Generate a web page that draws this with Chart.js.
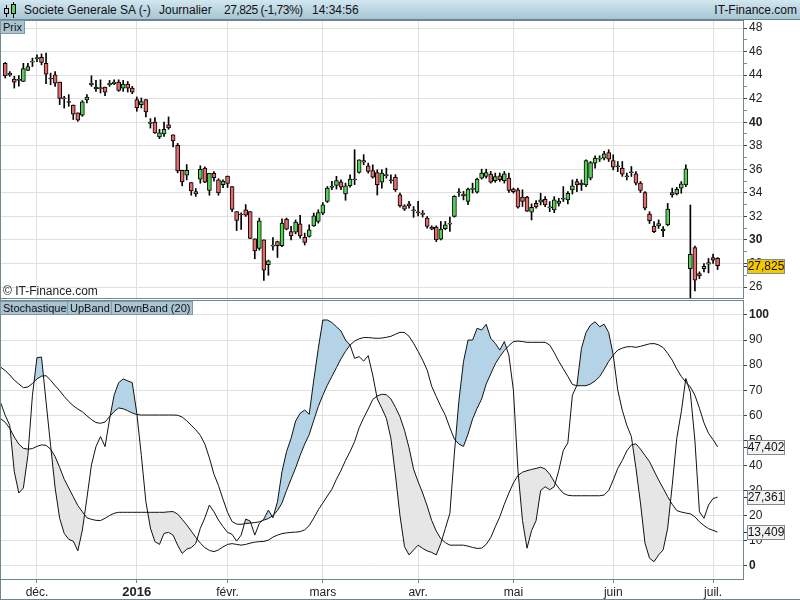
<!DOCTYPE html>
<html>
<head>
<meta charset="utf-8">
<script src="https://cdn.jsdelivr.net/npm/chart.js@4.4.0/dist/chart.umd.min.js"></script>
<style>
  body { margin: 0; width: 800px; height: 600px; position: relative; overflow: hidden; background: #fff; font-family: "Liberation Sans", Arial, sans-serif; }
  #header { position: absolute; left: 0; top: 0; width: 800px; height: 20px; background: linear-gradient(#d2e7f0, #a6c5d3); border-bottom: 1px solid #6b8593; box-sizing: border-box; }
  .ht { position: absolute; top: 3px; font-size: 12px; line-height: 14px; color: #111; white-space: nowrap; }
  .tag { position: absolute; height: 14px; line-height: 13px; font-size: 11px; padding: 0 2px; background: #a9c5d2; border: 1px solid #7f98a4; color: #111; box-sizing: border-box; white-space: nowrap; z-index: 3; }
  canvas { position: absolute; left: 0; }
  .frame { position: absolute; border: 1px solid #6f8590; box-sizing: border-box; pointer-events: none; z-index: 2; }
  .ic { position: absolute; box-sizing: border-box; }
  #copy { position: absolute; left: 3px; top: 284px; font-size: 12px; color: #222; z-index: 3; }
</style>
</head>
<body>
<div id="header">
  <div class="ic" style="left:6px;top:5px;width:1px;height:12px;background:#000"></div>
  <div class="ic" style="left:4px;top:8px;width:5px;height:6px;background:#ccc;border:1px solid #000"></div>
  <div class="ic" style="left:13px;top:2px;width:1px;height:16px;background:#000"></div>
  <div class="ic" style="left:11px;top:4px;width:5px;height:10px;background:#5bd35b;border:1px solid #000"></div>
  <span class="ht" style="left:24px">Societe Generale SA (-)</span>
  <span class="ht" style="left:159px">Journalier</span>
  <span class="ht" style="left:224px;letter-spacing:-0.5px">27,825 (-1,73%)</span>
  <span class="ht" style="left:312px">14:34:56</span>
  <span class="ht" style="right:3px">IT-Finance.com</span>
</div>

<canvas id="prix" width="800" height="278" style="top:20px"></canvas>
<canvas id="stoch" width="800" height="300" style="top:300px"></canvas>

<div class="frame" style="left:0;top:20px;width:744px;height:279px"></div>
<div class="frame" style="left:0;top:300px;width:744px;height:280px"></div>
<div class="frame" style="left:0;top:19px;width:800px;height:581px;border-right:none;border-top:none"></div>

<div class="tag" style="left:0;top:20px">Prix</div>
<div class="tag" style="left:0;top:301px">Stochastique</div>
<div class="tag" style="left:67px;top:301px">UpBand</div>
<div class="tag" style="left:111px;top:301px">DownBand (20)</div>
<div id="copy">© IT-Finance.com</div>

<script>
// axe des x : un point par séance (0 = 20 nov. 2015)
const xMin = -1.15, xMax = 162.6;
const monthIdx = [7, 29, 49, 70, 91, 112, 134, 156];
const monthLabels = ['déc.', '2016', 'févr.', 'mars', 'avr.', 'mai', 'juin', 'juil.'];
const priceTicks = [26,27,28,29,30,31,32,33,34,35,36,37,38,39,40,41,42,43,44,45,46,47,48];
const stochTicks = [0,10,20,30,40,50,60,70,80,90,100];

// cours journaliers
const opens = [
  45.01,44.0,43.66,43.55,43.46,44.4,45.1,45.4,45.52,45.01,
  43.69,44.03,43.41,42.0,41.69,41.46,40.79,40.6,41.89,43.18,
  42.82,42.87,42.99,43.18,43.27,43.41,42.9,43.24,42.9,41.92,
  41.49,41.92,39.9,40.0,38.76,39.0,39.77,38.93,38.03,35.92,
  35.5,34.87,33.9,35.16,36.1,34.2,35.66,35.1,34.7,35.43,
  34.54,32.4,32.14,32.56,32.4,30.1,29.29,30.0,27.91,29.48,
  29.86,29.51,31.77,30.71,30.66,31.37,30.23,30.29,31.2,31.57,
  32.28,33.27,34.47,34.63,34.94,33.9,34.6,35.09,35.73,36.75,
  36.3,35.9,35.73,34.91,35.46,35.11,35.31,33.84,32.9,33.07,
  32.5,32.33,32.19,31.85,30.92,31.09,30.07,30.95,31.35,32.0,
  34.01,33.9,33.27,34.3,34.06,35.25,35.39,35.59,35.03,35.45,
  35.03,35.25,34.32,34.26,33.64,33.64,32.35,33.1,33.2,33.45,
  32.72,32.55,33.11,33.46,33.4,34.25,34.96,34.68,34.68,35.24,
  36.52,36.86,36.95,37.43,36.75,36.22,36.1,35.37,35.71,35.61,
  34.82,34.03,32.2,31.18,31.2,30.76,31.27,34.02,33.9,34.4,
  34.68,27.57,29.36,27.15,27.57,27.94,28.51,28.43
];
const highs = [
  45.07,44.3,43.9,43.95,45.0,45.0,45.44,45.72,45.8,45.86,
  44.17,44.3,43.41,42.2,42.34,41.46,40.79,41.83,42.34,43.94,
  43.55,43.6,42.99,43.55,43.6,43.6,43.55,43.46,43.04,42.14,
  42.06,41.92,40.3,40.4,39.4,40.0,40.45,38.93,38.2,35.92,
  36.4,34.87,34.37,36.3,36.2,35.66,35.8,35.2,35.1,35.43,
  34.54,32.4,32.3,33.0,32.4,30.1,31.86,30.0,28.29,30.2,
  29.9,31.8,31.86,31.15,31.7,32.09,30.58,31.29,32.28,32.56,
  33.18,34.54,34.97,35.4,35.11,34.83,35.54,37.66,36.81,37.24,
  36.53,36.38,35.96,35.96,36.1,35.54,35.54,33.98,32.99,33.27,
  32.84,33.27,32.5,31.99,31.2,31.2,31.57,31.57,31.94,33.76,
  34.37,34.12,34.4,34.83,35.25,36.01,36.01,35.82,35.68,35.68,
  35.82,35.68,34.4,34.4,34.26,33.7,33.06,33.35,33.97,33.68,
  33.26,33.68,33.54,34.53,34.1,35.1,35.16,35.1,36.8,36.66,
  37.15,37.15,37.52,37.66,37.23,36.66,36.66,35.67,36.24,35.8,
  34.96,34.1,32.4,31.55,31.7,31.13,33.1,34.4,34.47,34.96,
  36.38,32.97,29.48,27.29,28.0,28.43,28.8,28.5
];
const lows = [
  43.75,43.9,42.9,43.05,43.46,44.4,44.73,45.15,44.87,43.27,
  43.18,43.04,41.5,41.2,41.35,40.23,40.08,40.5,41.63,43.04,
  42.62,42.48,42.25,43.04,43.18,42.62,42.62,42.56,42.42,40.93,
  41.21,40.45,39.5,39.05,38.6,38.8,39.4,37.9,35.7,34.6,
  35.1,33.8,33.7,34.82,34.87,33.8,35.0,33.8,34.45,34.45,
  32.4,30.8,30.9,32.0,30.1,28.4,29.14,26.57,27.0,29.14,
  28.51,29.43,30.86,30.0,30.52,30.16,29.57,30.24,31.15,31.43,
  32.14,33.18,34.26,34.32,34.26,33.37,34.49,34.7,35.68,36.38,
  35.68,35.25,33.82,34.4,35.25,34.83,34.12,32.79,32.5,32.7,
  31.92,32.05,31.94,31.0,30.86,29.86,30.0,30.86,30.72,31.94,
  33.69,33.4,32.99,33.98,33.98,35.17,35.25,34.83,34.9,34.97,
  34.83,34.03,33.98,32.7,32.84,32.42,31.7,32.7,32.97,32.83,
  32.4,32.32,32.88,33.26,33.06,33.9,34.1,34.2,34.53,35.1,
  36.1,36.66,36.8,36.66,35.95,35.8,35.4,35.1,35.39,34.67,
  34.03,32.55,31.4,30.61,30.98,30.27,31.2,33.63,33.82,33.97,
  34.53,25.1,25.67,26.72,27.29,27.2,28.0,27.49
];
const closes = [
  43.94,44.17,43.4,43.57,44.56,44.73,45.17,45.46,45.07,44.08,
  43.67,43.32,42.03,41.98,41.67,40.68,40.17,41.72,42.14,43.32,
  42.99,42.85,42.56,43.32,43.41,42.7,43.24,42.9,42.56,41.21,
  41.75,40.87,40.0,39.1,39.1,39.4,39.52,38.4,35.86,34.93,
  35.92,34.17,34.1,36.0,34.9,35.66,35.3,34.0,35.0,34.8,
  32.6,31.65,32.12,32.1,30.14,29.07,31.63,27.43,28.23,29.53,
  29.51,31.43,30.91,30.34,31.51,30.34,29.8,30.86,32.05,32.33,
  32.99,34.4,34.51,35.05,34.49,34.6,35.17,35.13,36.81,36.61,
  35.82,35.34,34.69,35.68,35.5,35.03,34.26,32.9,32.62,32.9,
  32.48,32.31,32.17,31.14,31.09,30.0,30.92,31.29,31.39,33.7,
  34.05,33.75,34.32,34.34,35.17,35.68,35.73,34.91,35.39,35.11,
  35.62,34.2,34.09,32.79,33.27,32.45,32.77,32.8,33.4,32.97,
  32.76,33.4,33.31,33.5,33.97,34.6,34.68,34.82,36.75,36.58,
  36.95,36.95,37.32,36.86,36.18,36.26,35.59,35.41,35.75,34.82,
  34.2,32.69,31.64,30.7,31.4,30.93,32.63,33.82,34.3,34.76,
  36.04,28.77,26.58,26.95,27.77,28.08,28.28,27.825
];

// stochastique et bandes (premier point = séance -1)
const stochStart = -1;
const stoch = [
  65,
  60,56,37.5,29,31,44,68,83,83.2,65.4,
  48,31,18.9,12.9,10.5,9.8,5.9,14.2,26.9,40.2,
  47.5,51.5,47.5,58.5,68,73,74.5,73.7,73,60.8,
  44,25.5,15,9.6,8.5,12.9,13.3,12.2,8.2,4.9,
  6.6,7.2,8.9,14.9,19.1,24.2,21.5,18.2,15.6,13.3,
  12.5,9.8,12.2,18.6,17.8,12.2,16.9,18.6,22.2,19.1,
  25.5,37.5,45.5,50.8,57.7,60.8,62.1,60.4,74,86.7,
  98,98,97,95.3,93.6,90,88,82.7,83.4,81.6,
  83.8,76,66.5,62.8,58.8,50.8,36.2,20,7.6,4.3,
  6.3,8.2,6.9,5.9,5.3,4.3,8.9,14.9,20.9,45,
  66,81.4,90,90,94.7,94,96.3,90.7,88.7,86,
  89.4,84,70,38,18,7,14,18,30,31.5,
  30.3,31.5,38,46,49,68,72,86.7,93,96,
  97.3,95.3,96.3,93,84,70,62,56,51.5,39,
  25,9,3,1.6,4.3,6.3,15,32,50.8,61.4,
  74.7,69,50,21.5,18.9,24.2,26.8,27.361
];
const upBand = [
  79.2,
  77.8,76.1,74,72.5,71,71.3,72.7,74.5,75.6,75.8,
  74,71.8,69.8,67.5,65.5,63.8,62.5,61.4,59.8,58.3,
  57.1,56.8,57.3,59.5,61.5,62.9,62.6,61.8,60.9,60.3,
  60.1,60.1,60.1,60.1,60.1,60.1,60.1,60.1,60,59.3,
  57.8,56,54.2,52,48.5,43,36.5,32,26.5,21.3,
  17.6,16.6,16.5,16.8,17,17.2,17.5,18.2,18.8,20,
  22,25,30,34.5,39,44,48.5,52.3,58,63.5,
  68,72,75.5,79,82.5,85.5,88,89.6,90.5,91,
  91,90.8,90.7,90.8,91.1,91.5,92.3,93.1,93,91.5,
  88.7,85.5,82,78,71.5,67.5,63.5,60,55,50.5,
  48.5,47.6,52.5,58.5,62.8,66.5,72.5,76.5,80.5,83.4,
  85.8,87.8,89.4,89.6,89.4,89.1,89.1,89.1,89.1,89.1,
  88,85,81.5,78.5,75.5,72.3,71.8,71.8,71.8,72.5,
  73.7,75.4,78.3,81.5,84,86,86.8,87.3,87.4,87.1,
  87.5,88,88.5,88.6,88.1,87,84.7,82,78.5,75.5,
  73.2,71.3,68,62.8,57,52.8,50.3,47.402
];
const downBand = [
  58.6,
  57.2,54.8,51.3,48.5,46.8,46.5,46.7,47.6,48.2,48,
  46.5,43.5,39.2,34.5,31,27.5,24,21.5,19.1,18.5,
  18.1,18,18.9,20,20.9,21.3,21.3,21.3,21.3,21.3,
  21.3,21.3,21.3,21.3,21.3,21.3,21.5,21.6,20.6,18.5,
  16.3,13.8,11.3,9,7.2,6.1,5.6,6.3,7.5,8.5,
  8.8,8.5,8.2,8.5,9,9.4,9.6,9.7,10.2,11.4,
  12.2,12.8,13.1,13.3,13.4,13.6,14.3,16,19,22.3,
  25,27.8,30.5,34.5,38,42,45.5,49.5,55,59,
  62.5,66.3,67.7,68.4,68.2,66.5,63.2,59.4,54,47,
  38.5,33.5,29,23.8,18,13.8,10.8,9.2,8.2,8.2,
  8.2,8.2,7.8,7.3,6.9,7,8.5,11.2,15.5,19.5,
  24.5,29,33,36,37.3,37.9,38.4,38.8,39.3,38.6,
  36.5,33.5,31,28.9,28.1,27.9,27.9,27.9,27.9,27.9,
  27.9,27.9,28.2,30,34.2,38.8,42,45.8,48.2,48.6,
  46.5,44,41.5,37.8,34.2,30.9,27.5,24.5,22,21.4,
  21,20.7,19.5,17.5,16,14.8,14.1,13.409
];

const green = '#55d255', red = '#e46b6b';
const gridCol = '#e0e0e0', frameCol = '#6f8590';
const font = '"Liberation Sans", Arial, sans-serif';
Chart.defaults.font.family = font;
Chart.defaults.font.size = 12;
Chart.defaults.color = '#222';

const fmt = v => v.toFixed(3).replace('.', ',');

// étiquettes de valeur à droite de l'axe
const badges = {
  id: 'badges',
  afterDraw(chart, args, opts) {
    const ctx = chart.ctx, y = chart.scales.y;
    (opts.items || []).forEach(b => {
      const py = Math.round(y.getPixelForValue(b.value));
      ctx.save();
      ctx.strokeStyle = '#333';
      ctx.beginPath(); ctx.moveTo(743, py + 0.5); ctx.lineTo(747, py + 0.5); ctx.stroke();
      ctx.fillStyle = b.bg;
      ctx.fillRect(747, py - 7, 38, 15);
      ctx.strokeStyle = '#7a8c96';
      ctx.strokeRect(747.5, py - 6.5, 37, 14);
      ctx.fillStyle = '#111';
      ctx.font = '12px ' + font;
      ctx.textAlign = 'center';
      ctx.textBaseline = 'middle';
      ctx.fillText(fmt(b.value), 766, py + 1);
      ctx.restore();
    });
  }
};

const monthTicks = s => { s.ticks = monthIdx.map(v => ({ value: v })); };

// --- graphique des cours ---
const idx = opens.map((_, i) => i);
new Chart(document.getElementById('prix'), {
  type: 'bar',
  data: {
    datasets: [
      {
        label: 'mèches',
        data: idx.map(i => ({ x: i, y: [lows[i], highs[i]] })),
        backgroundColor: '#000',
        borderWidth: 0,
        barThickness: 1,
        grouped: false,
        order: 2
      },
      {
        label: 'corps',
        data: idx.map(i => ({ x: i, y: [opens[i], closes[i]] })),
        backgroundColor: idx.map(i => closes[i] >= opens[i] ? green : red),
        borderColor: '#000',
        borderWidth: 1,
        borderSkipped: false,
        barThickness: 4,
        minBarLength: 1,
        grouped: false,
        order: 1
      }
    ]
  },
  options: {
    responsive: false,
    animation: false,
    layout: { padding: 0 },
    plugins: {
      legend: { display: false },
      tooltip: { enabled: false },
      badges: { items: [{ value: closes[closes.length - 1], bg: '#f5c800' }] }
    },
    scales: {
      x: {
        type: 'linear', min: xMin, max: xMax, offset: false,
        afterBuildTicks: monthTicks,
        grid: { offset: false, color: gridCol, drawTicks: false },
        border: { display: false },
        ticks: { display: false },
        afterFit: s => { s.height = 0; s.paddingLeft = 0; s.paddingRight = 0; }
      },
      y: {
        position: 'right', min: 25.07, max: 48.68,
        afterBuildTicks: s => { s.ticks = priceTicks.map(v => ({ value: v })); },
        grid: {
          color: c => (c.tick && c.tick.value % 2 === 0) ? gridCol : 'rgba(0,0,0,0)',
          tickColor: c => (c.tick && c.tick.value % 2 === 0) ? '#444' : '#888',
          tickLength: 4
        },
        border: { display: false },
        ticks: {
          autoSkip: false,
          padding: 2,
          color: '#222',
          callback: v => v % 2 === 0 ? String(v) : '',
          font: c => ({ size: 12, weight: (c.tick && c.tick.value % 10 === 0) ? 'bold' : 'normal' })
        },
        afterFit: s => { s.width = 57; s.paddingTop = 0; s.paddingBottom = 0; }
      }
    }
  },
  plugins: [badges]
});

// --- stochastique ---
const pts = arr => arr.map((v, i) => ({ x: i + stochStart, y: v }));
const lineStyle = { borderColor: '#111', borderWidth: 1, pointRadius: 0, tension: 0 };
new Chart(document.getElementById('stoch'), {
  type: 'line',
  data: {
    datasets: [
      Object.assign({ label: 'Stochastique', data: pts(stoch),
        fill: { target: 1, above: 'rgb(180,211,230)', below: 'rgba(0,0,0,0)' } }, lineStyle),
      Object.assign({ label: 'UpBand', data: pts(upBand), fill: false }, lineStyle),
      Object.assign({ label: 'DownBand (20)', data: pts(downBand), fill: false }, lineStyle),
      { label: 'zone basse', data: pts(stoch), borderWidth: 0, pointRadius: 0, tension: 0,
        borderColor: 'rgba(0,0,0,0)',
        fill: { target: 2, above: 'rgba(0,0,0,0)', below: 'rgb(230,230,230)' } }
    ]
  },
  options: {
    responsive: false,
    animation: false,
    layout: { padding: { top: 1, left: 0, right: 0, bottom: 0 } },
    plugins: {
      legend: { display: false },
      tooltip: { enabled: false },
      filler: { drawTime: 'beforeDatasetsDraw', propagate: false },
      badges: { items: [
        { value: upBand[upBand.length - 1], bg: '#f2f2f2' },
        { value: stoch[stoch.length - 1], bg: '#f2f2f2' },
        { value: downBand[downBand.length - 1], bg: '#f2f2f2' }
      ] }
    },
    scales: {
      x: {
        type: 'linear', min: xMin, max: xMax,
        afterBuildTicks: monthTicks,
        grid: { color: gridCol, tickColor: frameCol, tickLength: 4 },
        border: { display: false },
        ticks: {
          autoSkip: false, maxRotation: 0, padding: 2, color: '#222',
          callback: (v, i) => monthLabels[i],
          font: c => ({ size: c.index === 1 ? 13 : 12, weight: c.index === 1 ? 'bold' : 'normal' })
        },
        afterFit: s => { s.height = 21; s.paddingLeft = 0; s.paddingRight = 0; }
      },
      y: {
        position: 'right', min: -5.3, max: 105.58,
        afterBuildTicks: s => { s.ticks = stochTicks.map(v => ({ value: v })); },
        grid: { color: gridCol, tickColor: '#444', tickLength: 4 },
        border: { display: false },
        ticks: {
          autoSkip: false, padding: 2, color: '#222',
          font: c => ({ size: 12, weight: (c.tick && (c.tick.value === 0 || c.tick.value === 100)) ? 'bold' : 'normal' })
        },
        afterFit: s => { s.width = 57; s.paddingTop = 0; s.paddingBottom = 0; }
      }
    }
  },
  plugins: [badges]
});
</script>
</body>
</html>
